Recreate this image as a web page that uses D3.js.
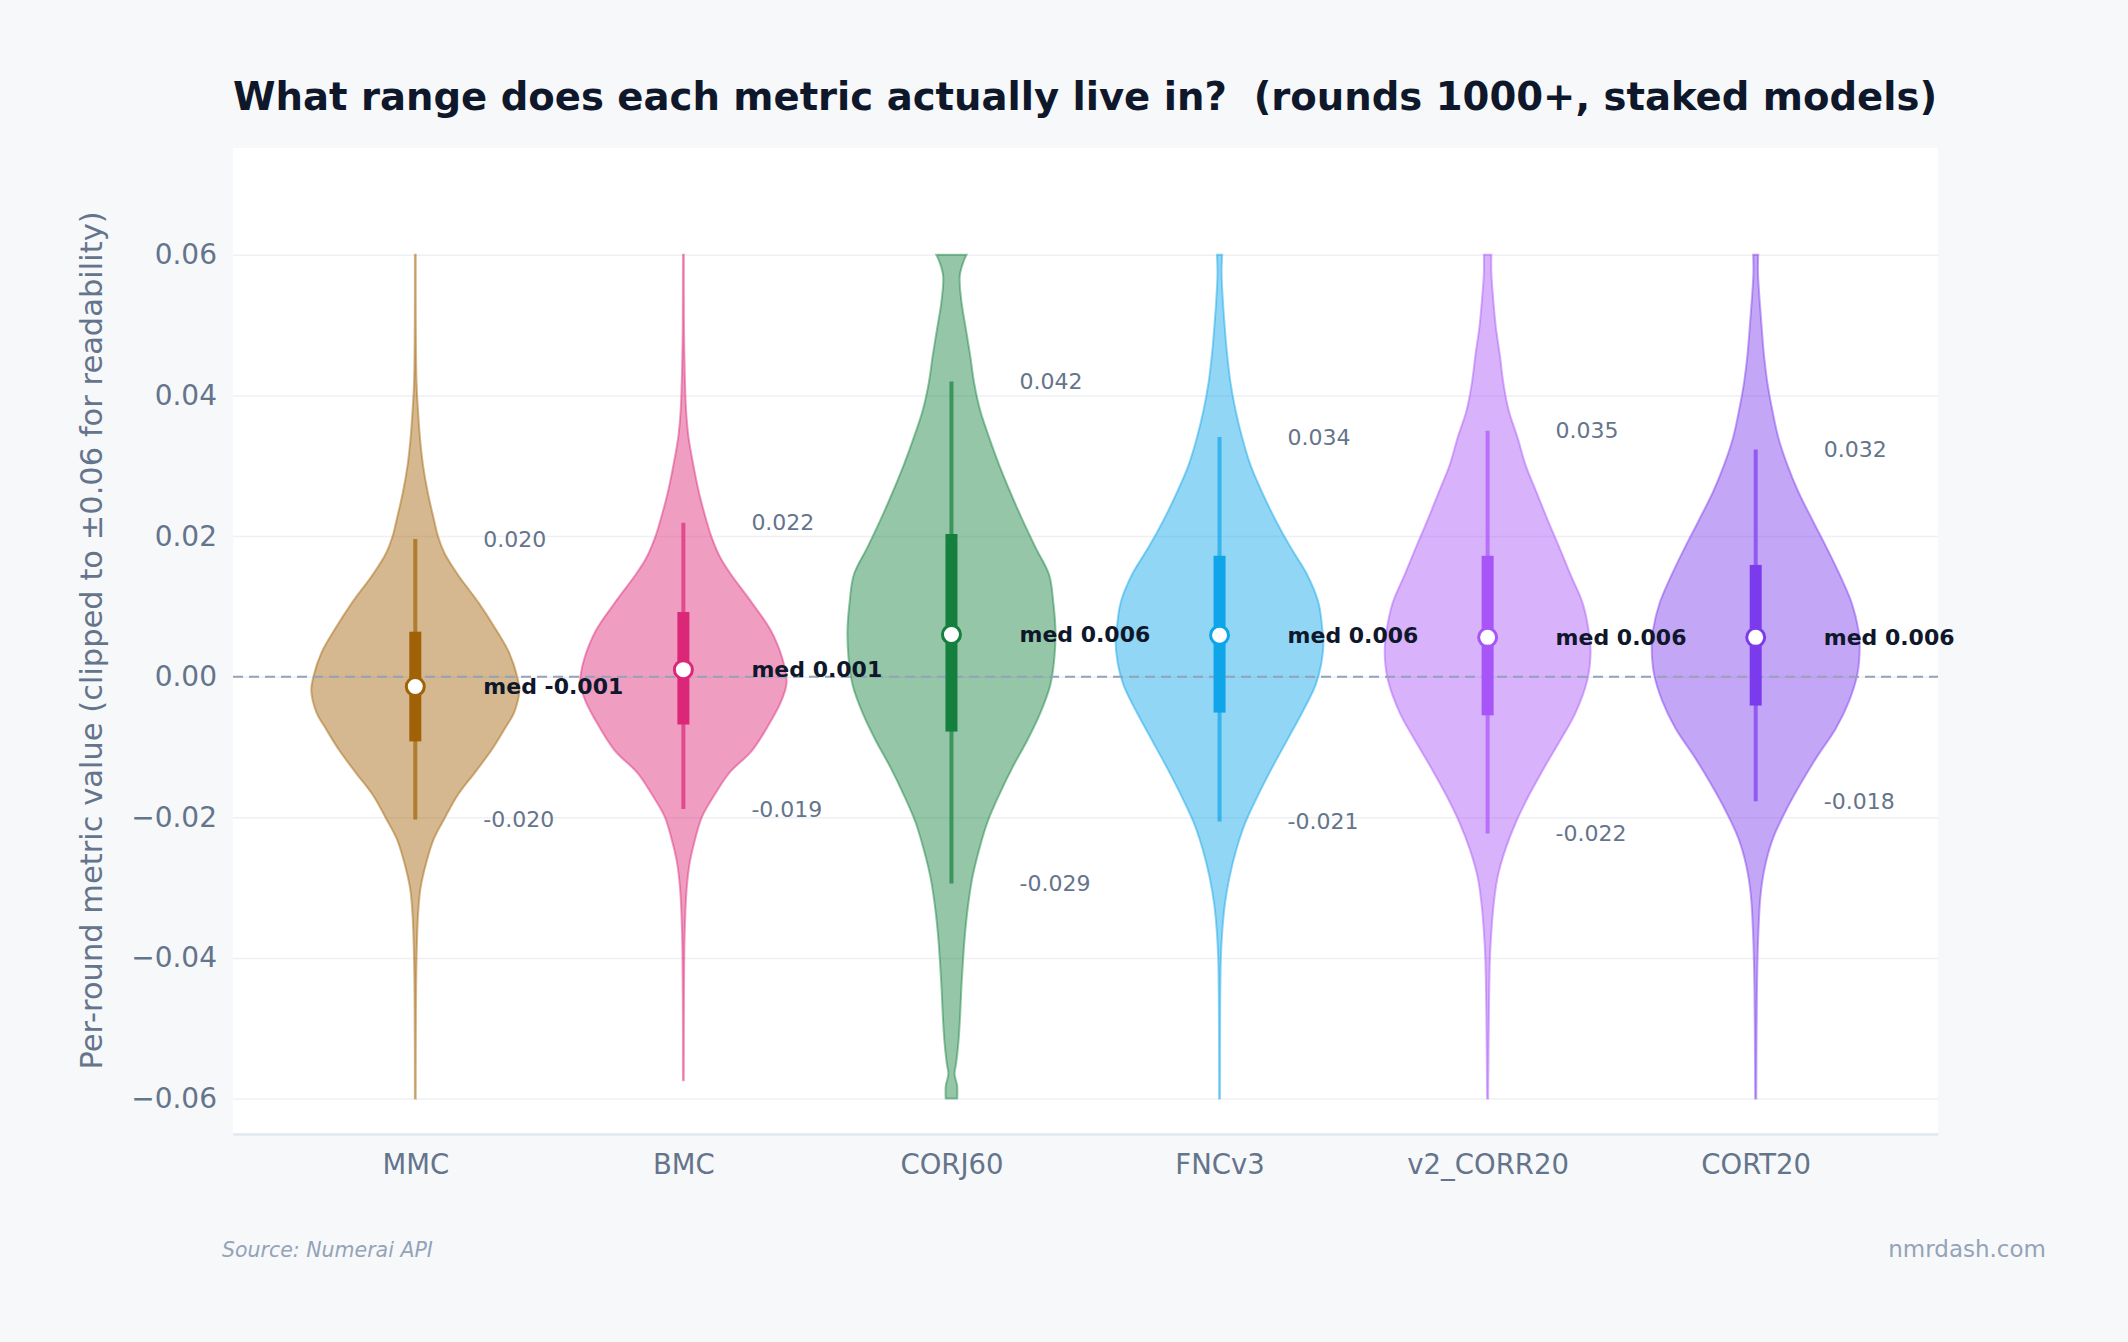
<!DOCTYPE html>
<html><head><meta charset="utf-8">
<script src="https://cdn.jsdelivr.net/npm/d3@7"></script>
<style>html,body{margin:0;padding:0;background:#f7f8fa;} svg{display:block;}</style>
</head><body><svg id="chart" width="2128" height="1342"></svg>
<script>
// ---------- data ----------
const categories = ["MMC", "BMC", "CORJ60", "FNCv3", "v2_CORR20", "CORT20"];
const colors = ["#a16207", "#db2777", "#15803d", "#0ea5e9", "#a855f7", "#7c3aed"];
const medians   = [-0.0014, 0.0010, 0.0060, 0.0059, 0.0056, 0.0056];
const q1        = [-0.0092, -0.0068, -0.0078, -0.0051, -0.0055, -0.0041];
const q3        = [0.0064, 0.0092, 0.0203, 0.0172, 0.0172, 0.0159];
const whiskerLo = [-0.0203, -0.0188, -0.0294, -0.0206, -0.0223, -0.0177];
const whiskerHi = [0.0196, 0.0219, 0.0420, 0.0341, 0.0350, 0.0323];
const yTicks = [-0.06, -0.04, -0.02, 0, 0.02, 0.04, 0.06];

// [value, relative density] pairs
const densityMMC = [[0.0600,0.004],[0.0500,0.005],[0.0418,0.012],[0.0379,0.026],[0.0340,0.045],[0.0301,0.074],[0.0262,0.12],[0.0223,0.18],[0.0199,0.22],[0.0176,0.28],[0.0145,0.41],[0.0105,0.61],[0.0066,0.78],[0.0035,0.90],[0.0000,0.98],[-0.0020,1.00],[-0.0051,0.95],[-0.0074,0.86],[-0.0105,0.73],[-0.0137,0.57],[-0.0168,0.41],[-0.0202,0.28],[-0.0230,0.18],[-0.0262,0.11],[-0.0301,0.05],[-0.0340,0.026],[-0.0402,0.012],[-0.0480,0.006],[-0.0600,0.004]];
const densityBMC = [[0.0600,0.004],[0.0500,0.006],[0.0457,0.010],[0.0418,0.016],[0.0379,0.026],[0.0340,0.05],[0.0301,0.096],[0.0262,0.15],[0.0223,0.22],[0.0199,0.27],[0.0168,0.36],[0.0145,0.46],[0.0105,0.66],[0.0066,0.84],[0.0027,0.95],[0.0000,0.99],[-0.0012,0.99],[-0.0035,0.94],[-0.0066,0.83],[-0.0105,0.66],[-0.0137,0.44],[-0.0168,0.30],[-0.0199,0.18],[-0.0230,0.115],[-0.0262,0.064],[-0.0301,0.032],[-0.0363,0.013],[-0.0450,0.006],[-0.0574,0.004]];
const densityCORJ60 = [[0.0600,0.145],[0.0590,0.115],[0.0570,0.080],[0.0535,0.095],[0.0496,0.137],[0.0457,0.18],[0.0418,0.218],[0.0379,0.276],[0.0340,0.363],[0.0301,0.459],[0.0262,0.567],[0.0223,0.683],[0.0184,0.808],[0.0145,0.939],[0.0105,0.98],[0.0066,1.00],[0.0027,0.99],[-0.0012,0.95],[-0.0051,0.856],[-0.0090,0.731],[-0.0129,0.587],[-0.0168,0.459],[-0.0207,0.346],[-0.0246,0.266],[-0.0285,0.202],[-0.0324,0.161],[-0.0363,0.132],[-0.0402,0.112],[-0.0441,0.096],[-0.0480,0.084],[-0.0520,0.067],[-0.0550,0.045],[-0.0565,0.030],[-0.0582,0.055],[-0.0600,0.055]];
const densityFNCv3 = [[0.0600,0.025],[0.0574,0.02],[0.0535,0.032],[0.0496,0.051],[0.0457,0.074],[0.0418,0.106],[0.0379,0.154],[0.0340,0.218],[0.0301,0.298],[0.0262,0.41],[0.0223,0.538],[0.0184,0.683],[0.0145,0.843],[0.0105,0.952],[0.0066,0.99],[0.0051,1.00],[0.0020,0.98],[-0.0012,0.923],[-0.0051,0.795],[-0.0090,0.651],[-0.0129,0.507],[-0.0168,0.372],[-0.0207,0.25],[-0.0246,0.161],[-0.0285,0.096],[-0.0324,0.051],[-0.0363,0.026],[-0.0402,0.0125],[-0.0480,0.006],[-0.0600,0.004]];
const densityV2CORR20 = [[0.0600,0.036],[0.0574,0.036],[0.0535,0.055],[0.0496,0.08],[0.0457,0.118],[0.0418,0.151],[0.0379,0.202],[0.0340,0.288],[0.0301,0.365],[0.0262,0.471],[0.0223,0.577],[0.0184,0.689],[0.0145,0.798],[0.0105,0.913],[0.0066,0.971],[0.0035,0.99],[-0.0004,0.96],[-0.0051,0.846],[-0.0090,0.70],[-0.0129,0.545],[-0.0168,0.40],[-0.0207,0.272],[-0.0246,0.17],[-0.0285,0.096],[-0.0324,0.058],[-0.0363,0.036],[-0.0402,0.022],[-0.0480,0.0125],[-0.0600,0.005]];
const densityCORT20 = [[0.0600,0.024],[0.0574,0.022],[0.0535,0.038],[0.0496,0.058],[0.0457,0.08],[0.0418,0.1125],[0.0379,0.16],[0.0340,0.218],[0.0301,0.305],[0.0262,0.413],[0.0223,0.545],[0.0184,0.68],[0.0145,0.808],[0.0105,0.923],[0.0066,0.988],[0.0043,1.00],[0.0004,0.978],[-0.0035,0.897],[-0.0074,0.769],[-0.0113,0.593],[-0.0152,0.433],[-0.0191,0.288],[-0.0230,0.166],[-0.0270,0.089],[-0.0309,0.048],[-0.0363,0.026],[-0.0441,0.0125],[-0.0600,0.005]];
const densities = [densityMMC, densityBMC, densityCORJ60, densityFNCv3, densityV2CORR20, densityCORT20];

const titleText = "What range does each metric actually live in?  (rounds 1000+, staked models)";
const yTitleText = "Per-round metric value (clipped to \u00b10.06 for readability)";
const sourceText = "Source: Numerai API";
const brandText = "nmrdash.com";

// ---------- layout ----------
const FONT = "'DejaVu Sans', Verdana, sans-serif";
const plot = {left: 233, right: 1938, top: 148, bottom: 1133};
const svg = d3.select("#chart").style("font-family", FONT);

svg.append("rect").attr("width", 2128).attr("height", 1342).attr("fill", "#f7f8fa");
svg.append("rect").attr("x", plot.left).attr("y", plot.top)
  .attr("width", plot.right - plot.left).attr("height", plot.bottom - plot.top).attr("fill", "#ffffff");

const x = d3.scalePoint().domain(categories).range([plot.left, plot.right]).padding(0.68);
const y = d3.scaleLinear().domain([-0.0649, 0.0752]).range([plot.bottom, plot.top]);
const w = d3.scaleLinear().domain([0, 1]).range([0, 104]);

// y axis with gridlines
const yAxis = d3.axisLeft(y).tickValues(yTicks).tickFormat(d3.format(".2f"))
  .tickSizeInner(-(plot.right - plot.left)).tickSizeOuter(0).tickPadding(16);
const gy = svg.append("g").attr("transform", `translate(${plot.left},0)`).call(yAxis);
gy.select(".domain").remove();
gy.selectAll(".tick line").attr("stroke", "#eef0f3").attr("stroke-width", 1.5);
gy.selectAll(".tick text").attr("fill", "#64748b").style("font-size", "28px").style("font-family", FONT);

// x axis
const xAxis = d3.axisBottom(x).tickSize(0).tickSizeOuter(0).tickPadding(20);
const gx = svg.append("g").attr("transform", `translate(0,${plot.bottom + 1})`).call(xAxis);
gx.select(".domain").attr("stroke", "#e2e8f0").attr("stroke-width", 2.5);
gx.selectAll(".tick text").attr("fill", "#64748b").style("font-size", "27.5px").style("font-family", FONT);

// layers
const gFill = svg.append("g");
const gZero = svg.append("g");
const gBox = svg.append("g");
const gLab = svg.append("g");

// zero line (above violin fills)
gZero.append("line").attr("x1", plot.left).attr("x2", plot.right)
  .attr("y1", y(0)).attr("y2", y(0))
  .attr("stroke", "#94a3b8").attr("stroke-width", 2).attr("stroke-dasharray", "10,6");

// violins
const area = d3.area().curve(d3.curveCatmullRom.alpha(0.5));
const fmt = v => v.toFixed(3);
categories.forEach((cat, i) => {
  const cx = x(cat);
  const col = colors[i];
  area.y(d => y(d[0])).x0(d => cx - w(d[1])).x1(d => cx + w(d[1]));
  gFill.append("path").datum(densities[i]).attr("d", area)
    .attr("fill", col).attr("fill-opacity", 0.45)
    .attr("stroke", col).attr("stroke-opacity", 0.45).attr("stroke-width", 2);
  // whisker
  gBox.append("line").attr("x1", cx).attr("x2", cx)
    .attr("y1", y(whiskerHi[i])).attr("y2", y(whiskerLo[i]))
    .attr("stroke", col).attr("stroke-opacity", 0.7).attr("stroke-width", 4);
  // box
  gBox.append("rect").attr("x", cx - 6).attr("width", 12)
    .attr("y", y(q3[i])).attr("height", y(q1[i]) - y(q3[i]))
    .attr("fill", col);
  // median
  gBox.append("circle").attr("cx", cx).attr("cy", y(medians[i])).attr("r", 9)
    .attr("fill", "#ffffff").attr("stroke", col).attr("stroke-width", 3);
  // labels
  gLab.append("text").attr("x", cx + 68).attr("y", y(whiskerHi[i])).attr("dy", "0.35em")
    .attr("fill", "#64748b").style("font-size", "22px").text(fmt(whiskerHi[i]));
  gLab.append("text").attr("x", cx + 68).attr("y", y(whiskerLo[i])).attr("dy", "0.35em")
    .attr("fill", "#64748b").style("font-size", "22px").text(fmt(whiskerLo[i]));
  gLab.append("text").attr("x", cx + 68).attr("y", y(medians[i])).attr("dy", "0.35em")
    .attr("fill", "#0f172a").style("font-size", "22px").style("font-weight", "bold")
    .text("med " + fmt(medians[i]));
});

// titles
svg.append("text").attr("x", plot.left).attr("y", 110)
  .attr("fill", "#0f172a").style("font-size", "38.6px").style("font-weight", "bold")
  .style("white-space", "pre").attr("xml:space", "preserve")
  .text(titleText);
svg.append("text").attr("transform", `translate(102,${(plot.top + plot.bottom) / 2}) rotate(-90)`)
  .attr("text-anchor", "middle").attr("fill", "#64748b").style("font-size", "30.5px")
  .text(yTitleText);
svg.append("text").attr("x", 222).attr("y", 1257)
  .attr("fill", "#94a3b8").style("font-size", "20.5px").style("font-style", "italic")
  .text(sourceText);
svg.append("text").attr("x", 2046).attr("y", 1257).attr("text-anchor", "end")
  .attr("fill", "#94a3b8").style("font-size", "23px")
  .text(brandText);
</script>
</body></html>
